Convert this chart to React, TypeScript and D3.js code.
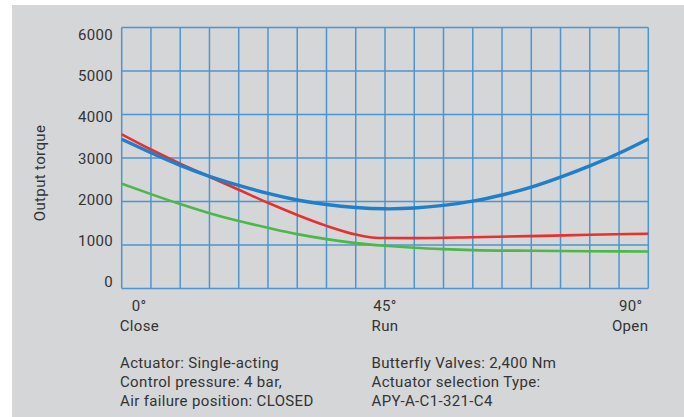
import React from "react";
import * as d3 from "d3";

const angles = [0, 5, 10, 15, 20, 25, 30, 35, 40, 45, 50, 55, 60, 65, 70, 75, 80, 85, 90];
const blueSeries = [3430, 3120, 2830, 2580, 2370, 2185, 2035, 1930, 1862, 1832, 1850, 1912, 2008, 2150, 2330, 2560, 2820, 3110, 3440];
const redAngles = [0, 5, 10, 15, 20, 25, 30, 35, 40, 44, 50, 60, 70, 80, 90];
const redSeries = [3545, 3195, 2870, 2570, 2270, 1970, 1690, 1440, 1240, 1160, 1158, 1178, 1205, 1235, 1260];
const greenAngles = [0, 5, 10, 15, 20, 25, 30, 35, 40, 45, 50, 55, 60, 70, 80, 90];
const greenSeries = [2410, 2170, 1940, 1730, 1550, 1395, 1250, 1135, 1044, 982, 936, 905, 883, 867, 858, 852];
const yTicks = [0, 1000, 2000, 3000, 4000, 5000, 6000];
const xTickLabels = [
  { deg: 0, top: "0°", bottom: "Close" },
  { deg: 45, top: "45°", bottom: "Run" },
  { deg: 90, top: "90°", bottom: "Open" },
];
const notesLeft = ["Actuator: Single-acting", "Control pressure: 4 bar,", "Air failure position: CLOSED"];
const notesRight = ["Butterfly Valves: 2,400 Nm", "Actuator selection Type:", "APY-A-C1-321-C4"];
const yTitle = "Output torque";

const W = 684;
const H = 417;
const plot = { left: 121.7, right: 648.3, top: 27.5, bottom: 288.5 };
const FONT = "Roboto, 'Open Sans', sans-serif";
const TEXT = "#333333";
const LS = 0.35;

export default function App() {
  const x = d3.scaleLinear().domain([0, 90]).range([plot.left, plot.right]);
  const y = d3.scaleLinear().domain([0, 6000]).range([plot.bottom, plot.top]);
  const yLabel = d3.scaleLinear().domain([0, 6000]).range([282, 35]);

  const lineSmooth = d3
    .line<[number, number]>()
    .x((d) => x(d[0]))
    .y((d) => y(d[1]))
    .curve(d3.curveNatural);
  const lineMono = d3
    .line<[number, number]>()
    .x((d) => x(d[0]))
    .y((d) => y(d[1]))
    .curve(d3.curveMonotoneX);

  const blue = lineSmooth(angles.map((a, i) => [a, blueSeries[i]]));
  const red = lineMono(redAngles.map((a, i) => [a, redSeries[i]]));
  const green = lineMono(greenAngles.map((a, i) => [a, greenSeries[i]]));

  const gridColor = "#3f8fcf";

  return (
    <svg
      width={W}
      height={H}
      style={{ position: "absolute", left: 0, top: 0, display: "block" }}
      fontFamily={FONT}
      letterSpacing={LS}
    >
      <rect x={0} y={0} width={W} height={H} fill="#ffffff" />
      <rect x={12} y={5} width={W - 12} height={H - 5} fill="#d5d6d8" />

      {/* grid */}
      <g stroke={gridColor} strokeWidth={1.5} opacity={0.9}>
        {d3.range(0, 91, 5).map((a) => (
          <line key={"v" + a} x1={x(a)} x2={x(a)} y1={y(6000)} y2={y(0)} />
        ))}
        {yTicks.map((t) => (
          <line key={"h" + t} x1={x(0)} x2={x(90)} y1={y(t)} y2={y(t)} />
        ))}
      </g>

      {/* curves */}
      <path d={green || ""} fill="none" stroke="#4cb848" strokeWidth={2.6} />
      <path d={red || ""} fill="none" stroke="#e8302e" strokeWidth={2.6} />
      <path d={blue || ""} fill="none" stroke="#1f7fc8" strokeWidth={3.4} />

      {/* y tick labels */}
      {yTicks.map((t) => (
        <text
          key={"yl" + t}
          x={113}
          y={yLabel(t)}
          textAnchor="end"
          dominantBaseline="central"
          fontSize={15}
          fill={TEXT}
        >
          {t}
        </text>
      ))}

      <text
        transform={`translate(39.5,173) rotate(-90)`}
        textAnchor="middle"
        dominantBaseline="central"
        fontSize={15}
        fill={TEXT}
      >
        {yTitle}
      </text>

      {/* x labels */}
      {xTickLabels.map((l, i) => {
        const cx = x(l.deg);
        const topX = i === 0 ? cx + 17.5 : i === 2 ? cx - 17.5 : cx;
        const anchor = i === 0 ? "start" : i === 2 ? "end" : "middle";
        const bx = i === 0 ? cx - 2 : cx;
        return (
          <g key={"xl" + l.deg} fontSize={15} fill={TEXT}>
            <text x={topX} y={306} textAnchor="middle" dominantBaseline="central">
              {l.top}
            </text>
            <text x={bx} y={325.5} textAnchor={anchor} dominantBaseline="central">
              {l.bottom}
            </text>
          </g>
        );
      })}

      {/* notes */}
      {notesLeft.map((n, i) => (
        <text key={"nl" + i} x={120} y={363.3 + i * 18.7} dominantBaseline="central" fontSize={15} fill={TEXT}>
          {n}
        </text>
      ))}
      {notesRight.map((n, i) => (
        <text key={"nr" + i} x={371.5} y={363.3 + i * 18.7} dominantBaseline="central" fontSize={15} fill={TEXT}>
          {n}
        </text>
      ))}
    </svg>
  );
}
